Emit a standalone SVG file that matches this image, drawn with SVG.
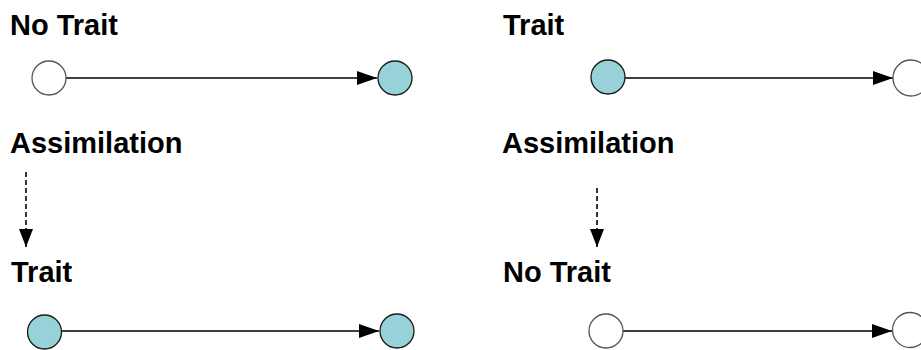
<svg xmlns="http://www.w3.org/2000/svg" width="921" height="350" viewBox="0 0 921 350">
<style>
.lbl{font-family:"Liberation Sans",Arial,sans-serif;font-weight:bold;font-size:29px;fill:#000}
.teal{fill:#96d2d8;stroke:#1a1a1a;stroke-width:1.3}
.white{fill:#fff;stroke:#555;stroke-width:1.3}
.edge{stroke:#000;stroke-width:1.6;fill:none}
.dash{stroke:#000;stroke-width:1.6;fill:none;stroke-dasharray:5,3}
</style>
<defs>
<marker id="ah" markerUnits="userSpaceOnUse" markerWidth="20" markerHeight="14" refX="20" refY="7" orient="auto">
<path d="M0,0 L20,7 L0,14 Z" fill="#000"/>
</marker>
<marker id="ahd" markerUnits="userSpaceOnUse" markerWidth="18" markerHeight="14" refX="18" refY="7" orient="auto">
<path d="M0,0 L18,7 L0,14 Z" fill="#000"/>
</marker>
</defs>
<rect width="921" height="350" fill="#fff"/>
<g id="labels">
<text id="t1" class="lbl" x="10" y="35">No Trait</text>
<text id="t2" class="lbl" x="10" y="153">Assimilation</text>
<text id="t3" class="lbl" x="11" y="282">Trait</text>
<text id="t4" class="lbl" x="503" y="35">Trait</text>
<text id="t5" class="lbl" x="502" y="153">Assimilation</text>
<text id="t6" class="lbl" x="503" y="282">No Trait</text>
</g>
<g id="connectors">
<line class="edge" x1="66" y1="78" x2="377" y2="78" marker-end="url(#ah)"/>
<line class="edge" x1="625" y1="78" x2="893" y2="78" marker-end="url(#ah)"/>
<line class="edge" x1="62" y1="331" x2="379" y2="331" marker-end="url(#ah)"/>
<line class="edge" x1="623" y1="331" x2="892" y2="331" marker-end="url(#ah)"/>
<line class="dash" x1="26" y1="172" x2="26" y2="247" marker-end="url(#ahd)"/>
<line class="dash" x1="597" y1="188" x2="597" y2="247" marker-end="url(#ahd)"/>
</g>
<g id="n1"><circle class="white" cx="49" cy="78" r="17"/></g>
<g id="n2"><circle class="teal" cx="395" cy="78" r="17"/></g>
<g id="n3"><circle class="teal" cx="44.5" cy="332" r="17"/></g>
<g id="n4"><circle class="teal" cx="397" cy="331" r="17"/></g>
<g id="n5"><circle class="teal" cx="608" cy="77" r="17"/></g>
<g id="n6"><circle class="white" cx="911" cy="78" r="18"/></g>
<g id="n7"><circle class="white" cx="606" cy="331" r="17"/></g>
<g id="n8"><circle class="white" cx="910" cy="330" r="17.5"/></g>
</svg>
